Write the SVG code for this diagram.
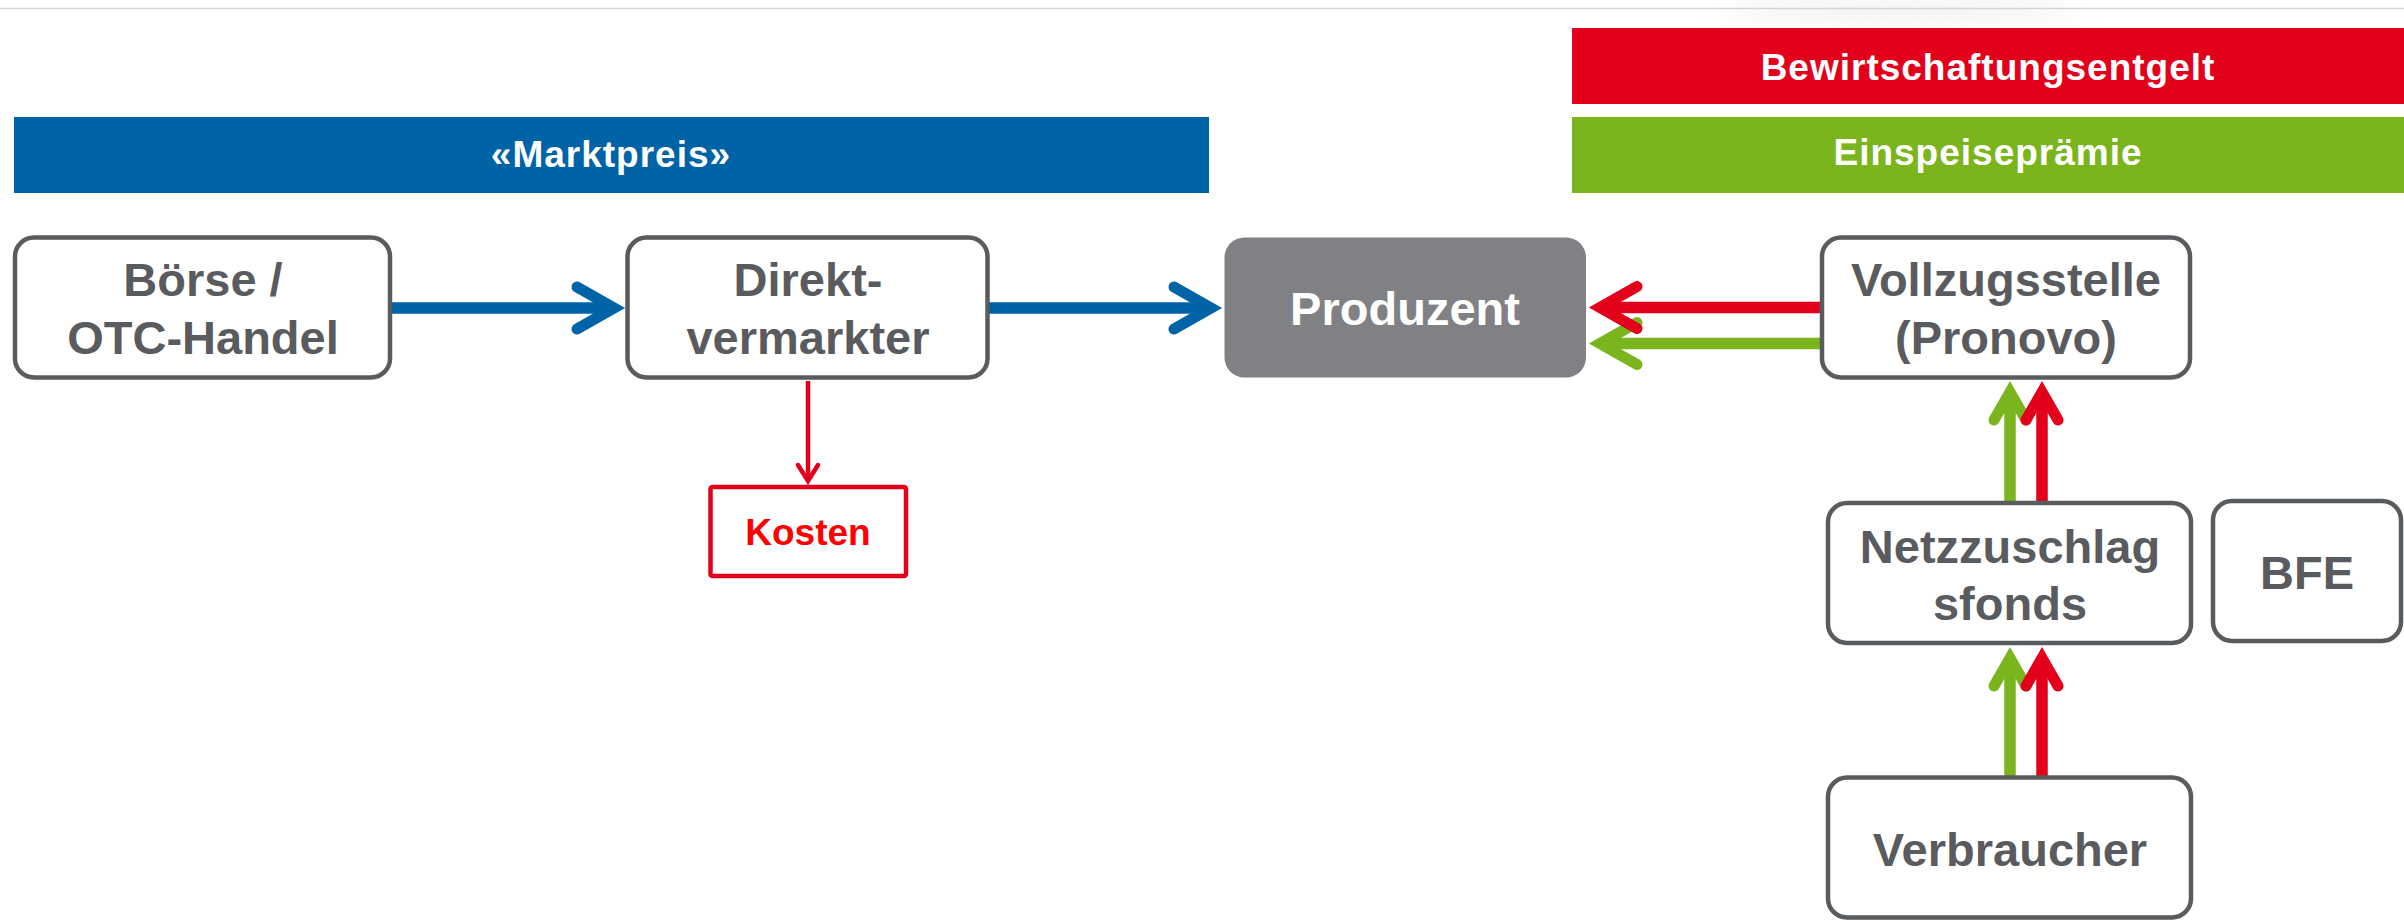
<svg xmlns="http://www.w3.org/2000/svg" width="2404" height="921" viewBox="0 0 2404 921">
<style>
text{font-family:"Liberation Sans",Arial,sans-serif;font-weight:bold;text-anchor:middle}
.box{fill:#fff;stroke:#595c5f;stroke-width:4.5}
.nt{font-size:47px;fill:#595b5e}
.band{font-size:37px;fill:#fff;letter-spacing:1px}
.ln{fill:none;stroke-width:11.5}
.hd{fill:none;stroke-width:11;stroke-linecap:round;stroke-linejoin:miter}
.blue{stroke:#0063a6}
.red{stroke:#e2001a}
.green{stroke:#7ab51d}
</style>
<defs>
<filter id="blur" x="-50%" y="-50%" width="200%" height="200%"><feGaussianBlur stdDeviation="12"/></filter>
</defs>
<rect width="2404" height="921" fill="#fff"/>
<ellipse cx="1900" cy="10" rx="180" ry="8" fill="#ececec" filter="url(#blur)"/>
<line x1="0" y1="8.5" x2="2404" y2="8.5" stroke="#d4d4d4" stroke-width="1.5"/>

<g id="bands">
<rect x="14" y="117" width="1195" height="76" fill="#0063a6"/>
<text class="band" x="611" y="167">«Marktpreis»</text>
<rect x="1572" y="28" width="832" height="76" fill="#e2001a"/>
<text class="band" x="1988" y="80">Bewirtschaftungsentgelt</text>
<rect x="1572" y="117" width="832" height="76" fill="#7ab51d"/>
<text class="band" x="1988" y="165">Einspeiseprämie</text>
</g>

<g id="connectors">
<g class="blue">
<line class="ln blue" x1="391" y1="308" x2="612" y2="308"/>
<polyline class="hd blue" points="577,287 614,308 577,329"/>
<line class="ln blue" x1="988" y1="308" x2="1209" y2="308"/>
<polyline class="hd blue" points="1174,287 1211,308 1174,329"/>
</g>
<line class="ln green" x1="1822" y1="343.5" x2="1602" y2="343.5"/>
<polyline class="hd green" points="1637,322.5 1600,343.5 1637,364.5"/>
<line class="ln red" x1="1822" y1="307.5" x2="1602" y2="307.5"/>
<polyline class="hd red" points="1637,286.5 1600,307.5 1637,328.5"/>

<line class="ln green" x1="2010" y1="502" x2="2010" y2="394"/>
<polyline class="hd green" points="1994,420 2010,392 2026,420"/>
<line class="ln red" x1="2042" y1="502" x2="2042" y2="394"/>
<polyline class="hd red" points="2026,420 2042,392 2058,420"/>

<line class="ln green" x1="2010" y1="777" x2="2010" y2="660"/>
<polyline class="hd green" points="1994,686 2010,658 2026,686"/>
<line class="ln red" x1="2042" y1="777" x2="2042" y2="660"/>
<polyline class="hd red" points="2026,686 2042,658 2058,686"/>

<line x1="808" y1="381" x2="808" y2="479" stroke="#e2001a" stroke-width="4.5"/>
<polyline points="798,465 808,481 818,465" fill="none" stroke="#e2001a" stroke-width="4.5" stroke-linecap="round"/>
</g>

<g id="boerse">
<rect class="box" x="15" y="237.5" width="375" height="140" rx="19"/>
<text class="nt" x="203" y="296">Börse /</text>
<text class="nt" x="203" y="354">OTC-Handel</text>
</g>
<g id="direkt">
<rect class="box" x="627.5" y="237.5" width="360" height="140" rx="19"/>
<text class="nt" x="808" y="296">Direkt-</text>
<text class="nt" x="808" y="354">vermarkter</text>
</g>
<g id="produzent">
<rect x="1224.5" y="237.5" width="361.5" height="140" rx="20" fill="#808184"/>
<text class="nt" x="1405" y="325" style="fill:#fff">Produzent</text>
</g>
<g id="vollzugsstelle">
<rect class="box" x="1822" y="237.5" width="368" height="140" rx="19"/>
<text class="nt" x="2006" y="296">Vollzugsstelle</text>
<text class="nt" x="2006" y="354">(Pronovo)</text>
</g>
<g id="netzzuschlagsfonds">
<rect class="box" x="1828" y="503" width="363" height="140" rx="19"/>
<text class="nt" x="2010" y="563">Netzzuschlag</text>
<text class="nt" x="2010" y="620">sfonds</text>
</g>
<g id="bfe">
<rect class="box" x="2213" y="501" width="188" height="140" rx="19"/>
<text class="nt" x="2307" y="589">BFE</text>
</g>
<g id="verbraucher">
<rect class="box" x="1828" y="777.5" width="363" height="140" rx="19"/>
<text class="nt" x="2010" y="866">Verbraucher</text>
</g>
<g id="kosten">
<rect x="710.5" y="487" width="195.5" height="89" rx="2" fill="#fff" stroke="#e2001a" stroke-width="4.5"/>
<text x="808" y="545" font-size="37" fill="#ff0000">Kosten</text>
</g>
</svg>
